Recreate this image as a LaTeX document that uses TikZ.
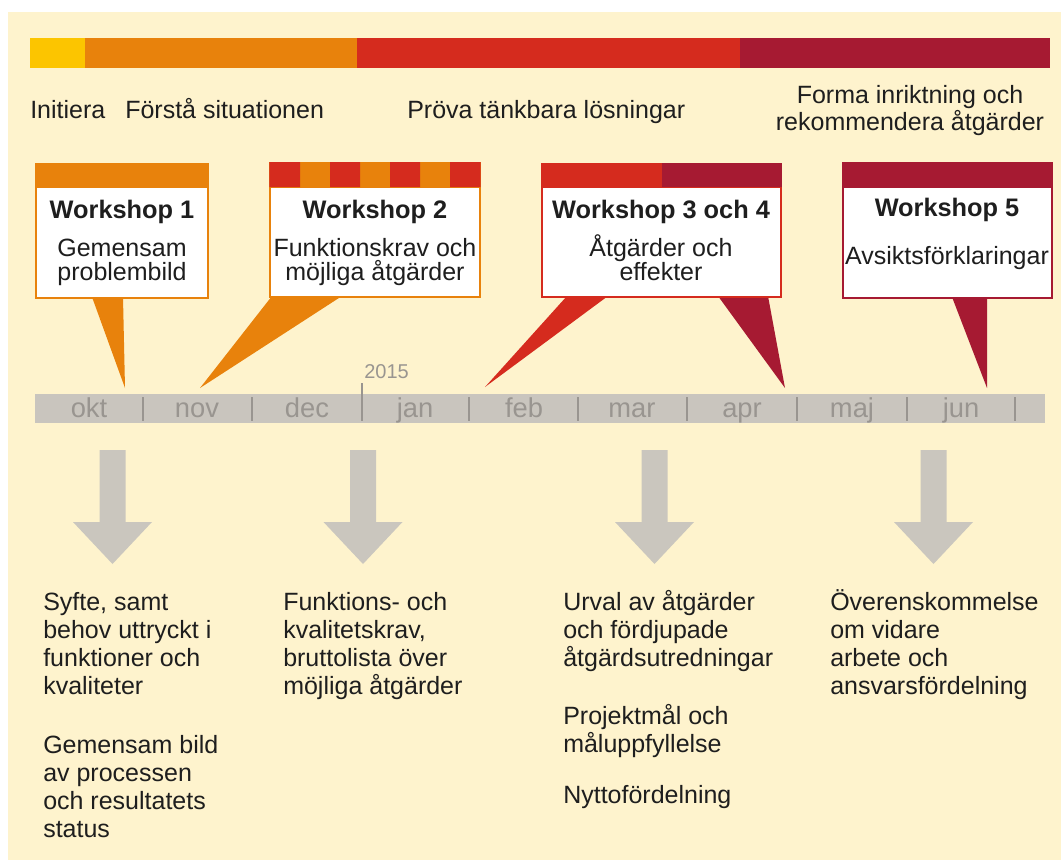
\documentclass[tikz,border=0pt]{standalone}
\usepackage{fontspec}
\setmainfont{Liberation Sans}

\definecolor{cream}{HTML}{FEF3CD}
\definecolor{txt}{HTML}{1E1E1E}
\definecolor{wsyellow}{HTML}{FCC500}
\definecolor{wsorange}{HTML}{E8820C}
\definecolor{wsred}{HTML}{D52B1E}
\definecolor{wsdarkred}{HTML}{A61A32}
\definecolor{bargray}{HTML}{C9C5BE}
\definecolor{monthgray}{HTML}{999590}
\definecolor{arrowgray}{HTML}{CAC6BE}

\tikzset{
    phase/.style={font=\fontsize{18.75}{18.75}\selectfont, text=txt, inner sep=0pt, align=center},
    wstitle/.style={font=\bfseries\fontsize{19}{19}\selectfont, text=txt, inner sep=0pt, anchor=base},
    wstext/.style={font=\fontsize{18.75}{18}\selectfont, text=txt, inner sep=0pt, align=center, anchor=base},
    month/.style={font=\fontsize{20.5}{20.5}\selectfont, text=monthgray, inner sep=0pt, anchor=base},
    result/.style={font=\fontsize{18.75}{21}\selectfont, text=txt, inner sep=0pt, align=left, anchor=base west},
    divider/.style={monthgray, line width=1.5},
    downarrow/.pic={\fill[arrowgray] (-13,0) -- (13,0) -- (13,72) -- (39.5,72)
        -- (0,114) -- (-39.5,72) -- (-13,72) -- cycle;}
}

\begin{document}
\begin{tikzpicture}[x=0.75pt, y=-0.75pt]

% background
    \fill[white] (0,0) rectangle (1061,860);
    \fill[cream] (8,12) rectangle (1061,860);
    \useasboundingbox (0,0) rectangle (1061,860);

% phase bar
    \fill[wsyellow] (30,38) rectangle (85,68);
    \fill[wsorange] (85,38) rectangle (357,68);
    \fill[wsred] (357,38) rectangle (740,68);
    \fill[wsdarkred] (740,38) rectangle (1050,68);
% labels (multi-line nodes sit on their last line)
    \draw   (30,118) node[phase, anchor=base west] (initiera) {Initiera}
            (125,118) node[phase, anchor=base west] (forsta) {Förstå situationen}
            (407,118) node[phase, anchor=base west] (prova) {Pröva tänkbara lösningar}
            (910,130) node[phase, anchor=base] (forma) {Forma inriktning och\\rekommendera åtgärder};

% timeline
    \fill[bargray] (35,394) rectangle (1045,423);
    \draw[divider] (143,397) -- (143,421)  (252,397) -- (252,421)
                   (469,397) -- (469,421)  (578,397) -- (578,421)
                   (687,397) -- (687,421)  (797,397) -- (797,421)
                   (907,397) -- (907,421)  (1015,397) -- (1015,421);
% new year
    \draw[divider] (362,383) -- (362,421);
    \draw (364,378) node[anchor=base west, inner sep=0pt, text=monthgray,
        font=\fontsize{15}{15}\selectfont] (year) {2015};
% months
    \draw   (89,417) node[month] (okt) {okt}
            (197,417) node[month] (nov) {nov}
            (307,417) node[month] (dec) {dec}
            (415,417) node[month] (jan) {jan}
            (524,417) node[month] (feb) {feb}
            (632,417) node[month] (mar) {mar}
            (742,417) node[month] (apr) {apr}
            (852,417) node[month] (maj) {maj}
            (961,417) node[month] (jun) {jun};

% pointers
    \coordinate (tip1) at (125,388);
    \coordinate (tip2) at (200,388);
    \coordinate (tip3) at (485,387);
    \coordinate (tip4) at (785,388);
    \coordinate (tip5) at (987,388);
    \fill[wsorange] (92,297) -- (123,297) -- (tip1) -- cycle;
    \fill[wsorange] (272,296) -- (342,296) -- (tip2) -- cycle;
    \fill[wsred] (567,296) -- (608,296) -- (tip3) -- cycle;
    \fill[wsdarkred] (718,296) -- (768,296) -- (tip4) -- cycle;
    \fill[wsdarkred] (952,297) -- (987,297) -- (tip5) -- cycle;

% workshop 1
    \draw[wsorange, line width=1.2, fill=white] (36,187) rectangle (208,298);
    \fill[wsorange] (35.4,163) rectangle (208.6,187);
    \draw   (122,218) node[wstitle] (ws1) {Workshop 1}
            (122,280) node[wstext] (ws1text) {Gemensam\\problembild};

% workshop 2
    \draw[wsorange, line width=1.2, fill=white] (270,187) rectangle (480,297);
    \fill[wsorange] (269.4,162) rectangle (480.6,187);
    \fill[wsred] (269.4,162) rectangle (300,187)  (330,162) rectangle (360,187)
                 (390,162) rectangle (420,187)  (450,162) rectangle (480.6,187);
    \draw   (375,218) node[wstitle] (ws2) {Workshop 2}
            (375,280) node[wstext] (ws2text) {Funktionskrav och\\möjliga åtgärder};

% workshop 3 och 4
    \draw[wsred, line width=1.2, fill=white] (542,187) rectangle (781,297);
    \fill[wsred] (541.4,163) rectangle (662,187);
    \fill[wsdarkred] (662,163) rectangle (781.6,187);
    \draw   (661,218) node[wstitle] (ws3) {Workshop 3 och 4}
            (661,280) node[wstext] (ws3text) {Åtgärder och\\effekter};

% workshop 5
    \draw[wsdarkred, line width=1.2, fill=white] (843,187) rectangle (1052,298);
    \fill[wsdarkred] (842.4,162) rectangle (1052.6,187);
    \draw   (947,216) node[wstitle] (ws5) {Workshop 5}
            (947,264) node[wstext] (ws5text) {Avsiktsförklaringar};

% arrows down
    \pic at (112.5,450) {downarrow};
    \pic at (363,450) {downarrow};
    \pic at (654.5,450) {downarrow};
    \pic at (933.5,450) {downarrow};

% results
    \draw   (43,694) node[result] (syfte) {Syfte, samt\\behov uttryckt i\\funktioner och\\kvaliteter}
            (43,837) node[result] (bild) {Gemensam bild\\av processen\\och resultatets\\status};
    \draw   (283,694) node[result] (krav) {Funktions- och\\kvalitetskrav,\\bruttolista över\\möjliga åtgärder};
    \draw   (563,666) node[result] (urval) {Urval av åtgärder\\och fördjupade\\åtgärdsutredningar}
            (563,752) node[result] (mal) {Projektmål och\\måluppfyllelse}
            (563,803) node[result] (nytta) {Nyttofördelning};
    \draw   (830,694) node[result] (overens) {Överenskommelse\\om vidare\\arbete och\\ansvarsfördelning};

\end{tikzpicture}
\end{document}
